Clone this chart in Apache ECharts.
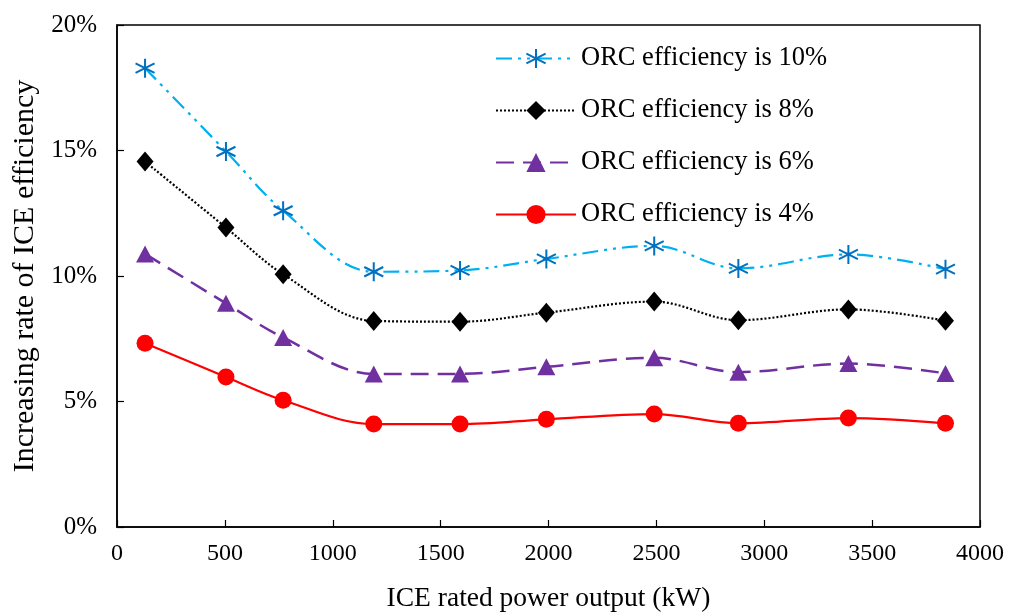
<!DOCTYPE html>
<html>
<head>
<meta charset="utf-8">
<script src="https://cdn.jsdelivr.net/npm/echarts@6/dist/echarts.min.js"></script>
<style>html,body{margin:0;padding:0;background:#fff;}#c{width:1009px;height:615px;}</style>
</head>
<body>
<div id="c"></div>
<script>
const powerKW = [130, 505, 770, 1190, 1590, 1990, 2490, 2880, 3390, 3840];
const orc10 = [18.28, 14.96, 12.6, 10.17, 10.22, 10.68, 11.2, 10.3, 10.86, 10.27];
const orc8 = [14.56, 11.93, 10.07, 8.21, 8.18, 8.54, 8.98, 8.24, 8.67, 8.22];
const orc6 = [10.88, 8.91, 7.55, 6.1, 6.1, 6.38, 6.74, 6.17, 6.51, 6.12];
const orc4 = [7.32, 5.98, 5.05, 4.1, 4.1, 4.29, 4.5, 4.13, 4.34, 4.13];
const seriesNames = ['ORC efficiency is 10%', 'ORC efficiency is 8%', 'ORC efficiency is 6%', 'ORC efficiency is 4%'];

const FONT = 'Liberation Serif';
const pair = arr => powerKW.map((x, i) => [x, arr[i]]);
const chart = echarts.init(document.getElementById('c'), null, {renderer: 'canvas'});
chart.setOption({
  animation: false,
  backgroundColor: '#fff',
  grid: {left: 117, right: 29, top: 25, bottom: 88, show: true, borderColor: '#000', borderWidth: 1.5, outerBoundsMode: 'none', containLabel: false},
  legend: {
    orient: 'vertical', left: 490, top: 40, itemWidth: 80, itemHeight: 24, itemGap: 25,
    textStyle: {fontFamily: FONT, fontSize: 26.5, color: '#000'},
    data: seriesNames
  },
  xAxis: {
    type: 'value', min: 0, max: 4000, interval: 500,
    name: 'ICE rated power output (kW)', nameLocation: 'middle', nameGap: 58,
    nameTextStyle: {fontFamily: FONT, fontSize: 27.5, color: '#000'},
    axisLine: {lineStyle: {color: '#000', width: 1.5}},
    axisTick: {inside: true, length: 7, lineStyle: {color: '#000', width: 1.2}},
    axisLabel: {fontFamily: FONT, fontSize: 24, color: '#000', margin: 15, formatter: v => String(v)},
    splitLine: {show: false}
  },
  yAxis: {
    type: 'value', min: 0, max: 20, interval: 5,
    name: 'Increasing rate of ICE efficiency', nameLocation: 'middle', nameGap: 66,
    nameTextStyle: {fontFamily: FONT, fontSize: 30, color: '#000'},
    axisLine: {show: true, lineStyle: {color: '#000', width: 1.5}},
    axisTick: {show: true, inside: true, length: 7, lineStyle: {color: '#000', width: 1.2}},
    axisLabel: {fontFamily: FONT, fontSize: 25, color: '#000', margin: 20, formatter: '{value}%'},
    splitLine: {show: false}
  },
  series: [
    {
      name: seriesNames[0], type: 'line', data: pair(orc10), smooth: 0.35,
      symbol: 'path://M0,-10L0,10M-8.7,-5L8.7,5M-8.7,5L8.7,-5', symbolSize: 19,
      itemStyle: {color: 'rgba(0,0,0,0)', borderColor: '#0070C0', borderWidth: 2},
      lineStyle: {color: '#00B0F0', width: 2.2, type: [16, 6, 3, 6, 3, 6]}
    },
    {
      name: seriesNames[1], type: 'line', data: pair(orc8), smooth: 0.35,
      symbol: 'diamond', symbolSize: [17, 20],
      itemStyle: {color: '#000'},
      lineStyle: {color: '#000', width: 2.2, type: [2, 2]}
    },
    {
      name: seriesNames[2], type: 'line', data: pair(orc6), smooth: 0.35,
      symbol: 'triangle', symbolSize: [18, 17],
      itemStyle: {color: '#7030A0'},
      lineStyle: {color: '#7030A0', width: 2.5, type: [18, 9]}
    },
    {
      name: seriesNames[3], type: 'line', data: pair(orc4), smooth: 0.35,
      symbol: 'circle', symbolSize: 17,
      itemStyle: {color: '#FF0000'},
      lineStyle: {color: '#FF0000', width: 2.2, type: 'solid'}
    }
  ]
});
</script>
</body>
</html>
